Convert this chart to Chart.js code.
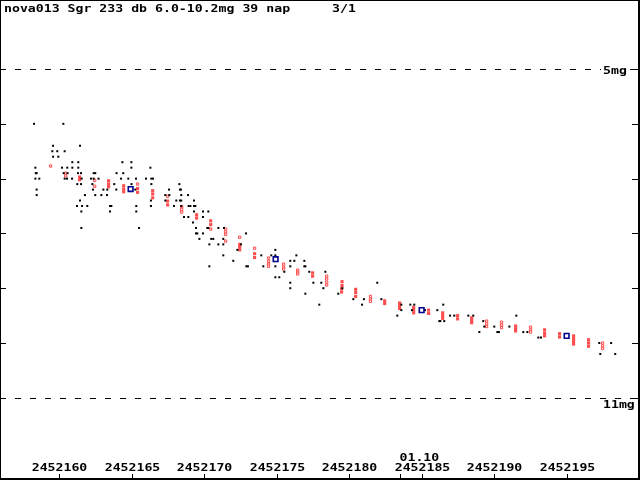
<!DOCTYPE html>
<html>
<head>
<meta charset="utf-8">
<script src="https://cdn.jsdelivr.net/npm/chart.js@4"></script>
<style>
  html, body { margin: 0; padding: 0; background: #fff; overflow: hidden; }
  #wrap { width: 640px; height: 480px; position: relative; }
</style>
</head>
<body>
<div id="wrap"><canvas id="lc"></canvas></div>
<script>
// days are JD - 2452000
const JD0 = 2452000;
const titleText = 'nova013 Sgr 233 db 6.0-10.2mg 39 nap';
const pageText = '3/1';

const xTicks = [2452160, 2452165, 2452170, 2452175, 2452180, 2452185, 2452190, 2452195];
const dateTickJD = [2452183.5];
const dateTickLabels = ['01.10'];
const magTicks = [5, 6, 7, 8, 9, 10, 11];
const magLines = [5, 11];
const magLineLabels = ['5mg', '11mg'];

// visual estimates (black)
const visual = [
  [158.28, 6.0], [160.30, 6.0], [159.59, 6.4], [161.45, 6.4], [159.54, 6.5], [159.88, 6.5],
  [160.39, 6.5], [159.59, 6.6], [159.95, 6.6], [160.92, 6.7], [161.33, 6.7], [164.37, 6.7],
  [164.99, 6.7], [158.37, 6.8], [160.21, 6.8], [160.57, 6.8], [160.92, 6.8], [161.33, 6.8],
  [164.99, 6.8], [166.30, 6.8], [158.40, 6.9], [158.46, 6.9], [160.32, 6.9], [160.59, 6.9],
  [161.31, 6.9], [161.52, 6.9], [162.39, 6.9], [162.50, 6.9], [163.97, 6.9], [164.43, 6.9],
  [158.37, 7.0], [158.64, 7.0], [160.39, 7.0], [160.55, 7.0], [160.90, 7.0], [161.56, 7.0],
  [162.21, 7.0], [162.39, 7.0], [162.73, 7.0], [164.28, 7.0], [164.78, 7.0], [165.31, 7.0],
  [166.00, 7.0], [166.37, 7.0], [166.48, 7.0], [161.26, 7.1], [161.52, 7.1], [162.30, 7.1],
  [163.81, 7.1], [165.00, 7.1], [166.37, 7.1], [162.34, 7.2], [163.06, 7.2], [163.33, 7.2],
  [163.95, 7.2], [165.26, 7.2], [158.46, 7.2], [158.46, 7.3], [161.79, 7.3], [162.50, 7.3],
  [162.92, 7.3], [163.31, 7.3], [161.45, 7.4], [166.34, 7.4], [161.24, 7.5], [161.59, 7.5],
  [161.95, 7.5], [163.52, 7.5], [163.61, 7.5], [165.33, 7.5], [166.34, 7.5], [161.54, 7.6],
  [163.52, 7.6], [165.33, 7.6], [161.54, 7.9], [165.52, 7.9],
  [168.30, 7.1], [167.59, 7.2], [168.34, 7.2], [168.41, 7.2], [167.33, 7.3], [167.61, 7.3],
  [168.43, 7.3], [168.90, 7.3], [167.33, 7.4], [168.09, 7.4], [168.34, 7.4], [168.43, 7.4],
  [169.31, 7.4], [167.93, 7.5], [168.43, 7.5], [168.94, 7.5], [169.06, 7.5], [169.31, 7.5],
  [169.40, 7.5], [169.31, 7.6], [169.93, 7.6], [170.30, 7.6], [168.62, 7.7], [168.92, 7.7],
  [169.93, 7.7], [169.24, 7.8], [169.45, 7.9], [170.23, 7.9], [170.30, 7.9], [170.99, 7.9],
  [171.38, 7.9], [169.45, 8.0], [169.54, 8.0], [169.93, 8.0], [172.90, 8.0], [169.68, 8.1],
  [170.50, 8.1], [170.64, 8.1], [171.33, 8.1], [170.37, 8.2], [170.99, 8.2], [171.33, 8.2],
  [172.55, 8.2], [172.30, 8.3], [174.92, 8.3], [171.33, 8.4], [173.95, 8.4], [174.64, 8.4],
  [174.92, 8.4], [176.37, 8.4], [172.02, 8.5], [175.95, 8.5], [176.23, 8.5], [170.37, 8.6],
  [172.92, 8.6], [173.03, 8.6], [174.09, 8.6], [174.92, 8.6], [175.95, 8.6], [175.54, 8.7],
  [174.92, 8.8], [175.19, 8.8], [175.95, 8.9], [175.95, 9.0],
  [176.92, 8.5], [176.92, 8.6], [176.99, 8.6], [177.26, 8.7], [178.37, 8.7], [177.54, 8.9],
  [178.09, 8.9], [178.23, 9.0], [176.99, 9.1], [177.95, 9.3], [179.54, 9.0], [179.26, 9.1],
  [180.30, 9.2], [181.03, 9.2], [180.90, 9.3], [181.95, 8.9], [182.23, 9.2], [183.61, 9.3],
  [183.61, 9.4], [184.23, 9.3], [184.50, 9.3], [184.34, 9.4], [185.24, 9.4], [183.33, 9.5],
  [186.09, 9.4], [186.50, 9.3], [186.97, 9.5], [187.26, 9.5], [188.23, 9.5], [186.23, 9.6],
  [186.30, 9.6], [186.57, 9.6],
  [188.57, 9.5], [191.54, 9.5], [189.26, 9.6], [189.33, 9.7], [190.02, 9.7], [191.06, 9.7],
  [188.99, 9.8], [190.23, 9.8], [190.34, 9.8], [192.02, 9.8], [192.30, 9.8], [193.06, 9.9],
  [193.24, 9.9], [197.26, 10.0], [198.08, 10.0], [197.33, 10.2], [198.36, 10.2]
];

// CCD, filled red
const ccdFilled = [
  [161.42, 6.97], [161.42, 7.02], [163.42, 7.04], [163.42, 7.10], [163.42, 7.15],
  [164.46, 7.13], [164.46, 7.19], [164.46, 7.24], [165.42, 7.18], [165.42, 7.25],
  [166.46, 7.22], [166.46, 7.28], [166.46, 7.35], [167.49, 7.41], [167.49, 7.48],
  [169.49, 7.66], [169.49, 7.72], [170.46, 7.77], [170.46, 7.84],
  [172.46, 8.20], [172.46, 8.25], [172.46, 8.30], [173.49, 8.37], [173.49, 8.44],
  [177.49, 8.72], [177.49, 8.78], [179.52, 8.88], [179.52, 8.95], [179.49, 9.01], [179.49, 9.07],
  [180.46, 9.02], [180.46, 9.08], [180.46, 9.15], [182.46, 9.23], [182.46, 9.28],
  [183.49, 9.27], [183.49, 9.32], [183.49, 9.37], [184.46, 9.35], [184.46, 9.40], [184.46, 9.45],
  [185.49, 9.40], [185.49, 9.46], [186.46, 9.45], [186.46, 9.50], [186.46, 9.55],
  [187.49, 9.50], [187.49, 9.56], [188.46, 9.54], [188.46, 9.59], [188.46, 9.63],
  [191.49, 9.69], [191.49, 9.74], [191.49, 9.78], [193.49, 9.76], [193.49, 9.82], [193.49, 9.87],
  [194.52, 9.83], [194.52, 9.89], [195.49, 9.87], [195.49, 9.92], [195.49, 9.97], [195.49, 10.02],
  [196.52, 9.94], [196.52, 10.00], [196.52, 10.06]
];

// CCD, open red
const ccdOpen = [
  [159.42, 6.77], [160.46, 6.90], [160.46, 6.95], [162.46, 7.03], [162.46, 7.14],
  [165.42, 7.10], [167.49, 7.32], [168.46, 7.51], [168.46, 7.56], [168.46, 7.61],
  [170.46, 7.92], [171.49, 7.92], [171.49, 7.97], [171.49, 8.02], [171.49, 8.14],
  [172.46, 8.07], [173.49, 8.27], [174.45, 8.45], [174.45, 8.51], [174.45, 8.56], [174.45, 8.60],
  [175.49, 8.56], [175.49, 8.61], [175.49, 8.65], [176.46, 8.67], [176.46, 8.71], [176.46, 8.74],
  [178.46, 8.78], [178.46, 8.83], [178.46, 8.89], [178.46, 8.94],
  [181.48, 9.15], [181.48, 9.20], [181.48, 9.24], [189.49, 9.60], [189.49, 9.65], [189.49, 9.70],
  [190.52, 9.62], [190.52, 9.67], [190.52, 9.72], [192.52, 9.71], [192.52, 9.76], [192.52, 9.80],
  [197.49, 10.00], [197.49, 10.05], [197.49, 10.10]
];

// blue open squares
const blueObs = [[164.94, 7.19], [174.94, 8.47], [185.01, 9.40], [195.01, 9.87]];

const FONT = 'bold 11px "DejaVu Sans Mono", "Liberation Mono", monospace';
const toXY = arr => arr.map(p => ({ x: p[0], y: p[1] }));

function txt(ctx, s, x, y, align) {
  ctx.save();
  ctx.translate(x, y);
  ctx.scale(1.2, 1);
  ctx.textAlign = align || 'left';
  ctx.fillText(s, 0, 0);
  ctx.restore();
}

const decor = {
  id: 'decor',
  beforeDraw(chart) {
    const ctx = chart.ctx;
    ctx.save();
    ctx.fillStyle = '#fff';
    ctx.fillRect(0, 0, chart.width, chart.height);
    ctx.restore();
  },
  beforeDatasetsDraw(chart) {
    const ctx = chart.ctx, ys = chart.scales.y;
    ctx.save();
    ctx.strokeStyle = '#000';
    ctx.lineWidth = 1;
    ctx.setLineDash([6, 9]);
    magLines.forEach(m => {
      const y = Math.round(ys.getPixelForValue(m)) + 0.5;
      ctx.beginPath();
      ctx.moveTo(0, y);
      ctx.lineTo(chart.width, y);
      ctx.stroke();
    });
    ctx.restore();
  },
  afterDraw(chart) {
    const ctx = chart.ctx, xs = chart.scales.x, ys = chart.scales.y;
    const W = chart.width, H = chart.height;
    ctx.save();
    ctx.fillStyle = '#000';
    ctx.strokeStyle = '#000';
    ctx.font = FONT;
    ctx.textBaseline = 'alphabetic';

    // magnitude ticks both sides
    ctx.lineWidth = 1;
    magTicks.forEach(m => {
      const y = Math.round(ys.getPixelForValue(m)) + 0.5;
      ctx.beginPath();
      ctx.moveTo(0, y); ctx.lineTo(6, y);
      ctx.moveTo(W - 8, y); ctx.lineTo(W, y);
      ctx.stroke();
    });

    // dashed line labels
    magLineLabels.forEach((s, i) => {
      const y = ys.getPixelForValue(magLines[i]);
      const by = i === 0 ? y + 5 : y + 10;
      ctx.fillStyle = '#fff';
      ctx.fillRect(601, by - 8, s.length * 8 + 2, 9);
      ctx.fillStyle = '#000';
      txt(ctx, s, 603, by);
    });

    // JD ticks and labels
    xTicks.forEach(jd => {
      const x = Math.round(xs.getPixelForValue(jd - JD0)) + 0.5;
      ctx.beginPath();
      ctx.moveTo(x, H - 6); ctx.lineTo(x, H);
      ctx.stroke();
      txt(ctx, String(jd), x, H - 9, 'center');
    });
    dateTickJD.forEach((jd, i) => {
      const x = Math.round(xs.getPixelForValue(jd - JD0)) + 0.5;
      ctx.beginPath();
      ctx.moveTo(x, H - 6); ctx.lineTo(x, H);
      ctx.stroke();
      txt(ctx, dateTickLabels[i], x - 1, H - 19, 'left');
    });

    // title
    txt(ctx, titleText, 4, 12);
    txt(ctx, pageText, 332, 12);

    // frame
    ctx.lineWidth = 2;
    ctx.strokeRect(0, 0, W - 1, H - 1);
    ctx.restore();
  }
};

new Chart(document.getElementById('lc'), {
  type: 'scatter',
  data: {
    datasets: [
      {
        label: 'blue',
        data: toXY(blueObs),
        pointStyle: 'rect',
        pointRadius: 3.3,
        borderWidth: 1.6,
        borderColor: '#000090',
        backgroundColor: '#fff'
      },
      {
        label: 'visual',
        data: toXY(visual),
        pointStyle: 'rect',
        pointRadius: 1.42,
        borderWidth: 0,
        backgroundColor: '#000'
      },
      {
        label: 'ccd open',
        data: toXY(ccdOpen),
        pointStyle: 'rect',
        pointRadius: 1.6,
        borderWidth: 1,
        borderColor: '#ff4c4c',
        backgroundColor: '#fff'
      },
      {
        label: 'ccd',
        data: toXY(ccdFilled),
        pointStyle: 'rect',
        pointRadius: 2.2,
        borderWidth: 0,
        backgroundColor: '#ff4c4c'
      }
    ]
  },
  options: {
    responsive: true,
    maintainAspectRatio: false,
    devicePixelRatio: 1,
    animation: false,
    events: [],
    layout: { autoPadding: false, padding: { left: 1, right: 1, top: 0, bottom: 0 } },
    plugins: { legend: { display: false }, tooltip: { enabled: false }, title: { display: false } },
    scales: {
      x: { type: 'linear', min: 156, max: 200, display: false },
      y: { type: 'linear', min: 3.74, max: 12.5, reverse: true, display: false }
    }
  },
  plugins: [decor]
});
</script>
</body>
</html>
